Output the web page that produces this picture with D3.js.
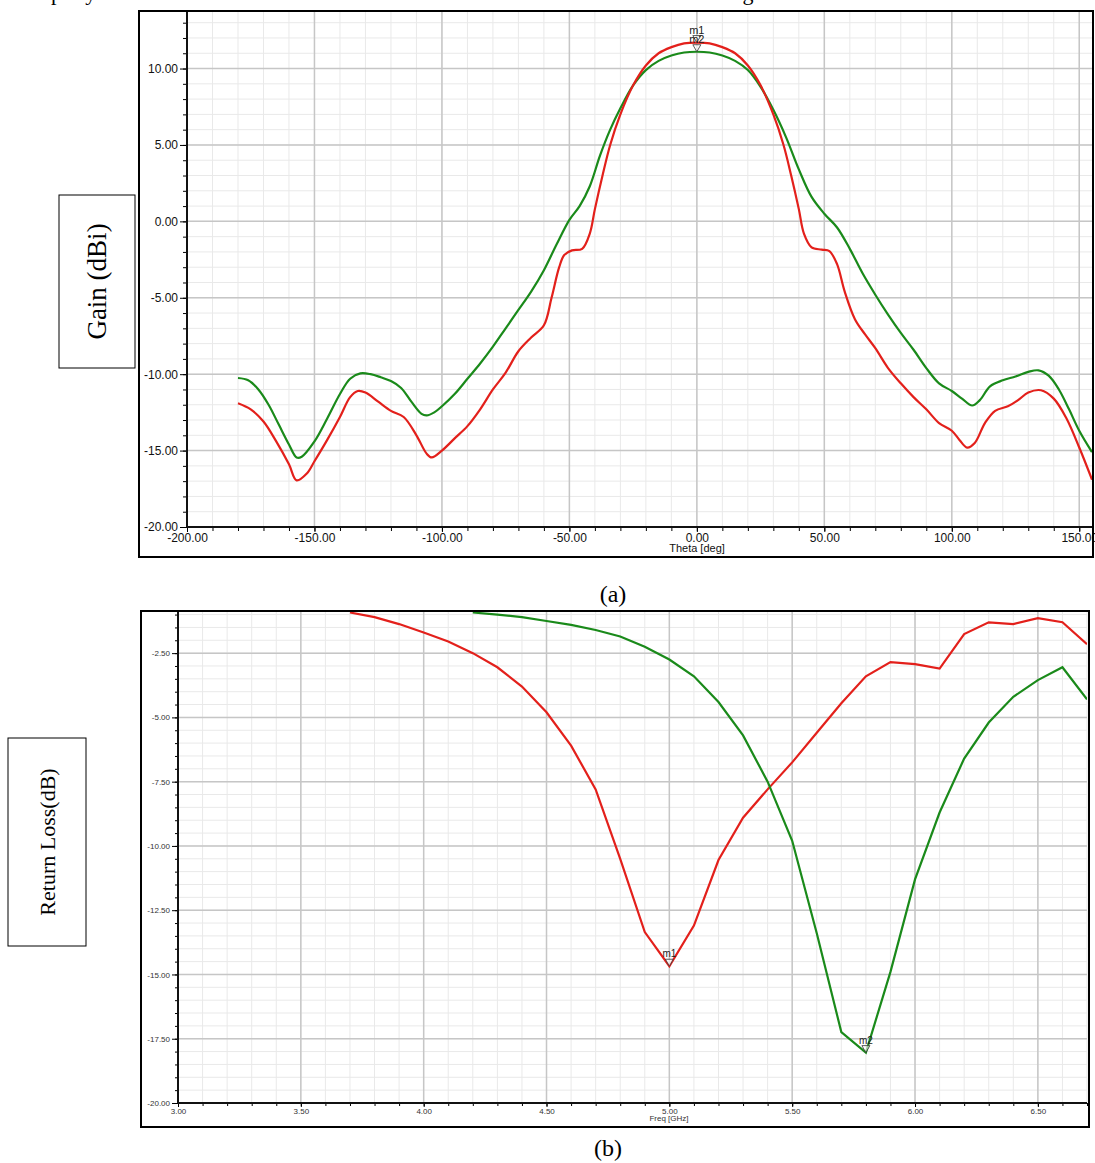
<!DOCTYPE html>
<html><head><meta charset="utf-8">
<script src="https://cdn.jsdelivr.net/npm/d3@7"></script>
<style>
html,body{margin:0;padding:0;background:#fff;}
svg{display:block;}
</style></head>
<body>
<svg id="c" width="1095" height="1163"></svg>
<script>
// ---------- DATA ----------
// (a) radiation pattern, Theta [deg] vs Gain (dBi)
const thetaRed = [-180,-175,-170,-165,-160,-157,-153,-150,-145,-140,-136,-133,-130,-125,-120,-115,-110,-106,-104,-100,-95,-90,-85,-80,-75,-70,-65,-60,-57,-54,-52,-49,-45,-42,-40,-37,-34,-30,-25,-20,-15,-10,-5,0,5,10,15,20,25,30,34,37,40,42,45,49,52,55,58,62,66,70,75,80,85,90,95,100,103,106,109,113,117,122,126,130,135,140,145,150,155];
const gainRed  = [-11.9,-12.3,-13.1,-14.4,-15.9,-16.95,-16.5,-15.7,-14.3,-12.8,-11.5,-11.1,-11.2,-11.8,-12.4,-12.8,-14.0,-15.2,-15.45,-15.0,-14.2,-13.4,-12.3,-11.0,-9.9,-8.5,-7.6,-6.8,-5.0,-3.0,-2.2,-1.9,-1.8,-0.8,0.8,3.0,5.0,7.0,8.9,10.2,11.0,11.4,11.65,11.7,11.65,11.4,11.0,10.2,8.9,7.0,5.0,3.0,0.8,-0.8,-1.7,-1.85,-1.95,-2.8,-4.6,-6.4,-7.4,-8.3,-9.6,-10.6,-11.5,-12.3,-13.2,-13.7,-14.3,-14.8,-14.5,-13.2,-12.4,-12.1,-11.7,-11.2,-11.05,-11.6,-12.9,-14.8,-16.9];
const thetaGreen = [-180,-176,-172,-168,-164,-160,-157,-155,-150,-145,-140,-136,-132,-128,-124,-120,-116,-112,-108,-106,-103,-100,-95,-90,-85,-80,-75,-70,-65,-60,-55,-50,-46,-42,-38,-34,-30,-25,-20,-15,-10,-5,0,5,10,15,20,25,30,35,40,45,50,55,60,65,70,75,80,85,90,95,100,104,108,111,115,120,125,130,134,138,142,146,150,155];
const gainGreen  = [-10.25,-10.4,-11.0,-12.0,-13.3,-14.6,-15.45,-15.4,-14.4,-12.9,-11.3,-10.3,-9.95,-10.0,-10.2,-10.45,-10.9,-11.8,-12.6,-12.7,-12.5,-12.1,-11.3,-10.3,-9.3,-8.2,-7.0,-5.8,-4.6,-3.2,-1.5,0.1,1.0,2.3,4.3,6.0,7.4,8.9,9.9,10.5,10.85,11.05,11.1,11.05,10.85,10.5,9.9,8.8,7.3,5.5,3.4,1.6,0.5,-0.4,-1.8,-3.4,-4.8,-6.1,-7.3,-8.4,-9.6,-10.6,-11.1,-11.6,-12.05,-11.7,-10.8,-10.4,-10.15,-9.85,-9.75,-10.1,-11.0,-12.3,-13.7,-15.1];
const markersA = [{name:"m1", x:0, y:11.7, series:"red"},{name:"m2", x:0, y:11.1, series:"green"}];
const xTicksA = [-200,-150,-100,-50,0,50,100,150];
const yTicksA = [-20,-15,-10,-5,0,5,10];

// (b) return loss, Freq [GHz] vs dB
const freqRed  = [3.7,3.8,3.9,4.0,4.1,4.2,4.3,4.4,4.5,4.6,4.7,4.8,4.9,5.0,5.1,5.2,5.3,5.4,5.5,5.6,5.7,5.8,5.9,6.0,6.1,6.2,6.3,6.4,6.5,6.6,6.7];
const rlRed    = [-0.92,-1.1,-1.37,-1.7,-2.05,-2.5,-3.05,-3.8,-4.8,-6.1,-7.8,-10.5,-13.35,-14.68,-13.1,-10.55,-8.9,-7.8,-6.75,-5.6,-4.45,-3.4,-2.85,-2.93,-3.1,-1.76,-1.3,-1.37,-1.14,-1.3,-2.15];
const freqGreen = [4.2,4.3,4.4,4.5,4.6,4.7,4.8,4.9,5.0,5.1,5.2,5.3,5.4,5.5,5.6,5.7,5.8,5.9,6.0,6.1,6.2,6.3,6.4,6.5,6.6,6.7];
const rlGreen   = [-0.92,-1.0,-1.1,-1.25,-1.4,-1.6,-1.85,-2.25,-2.75,-3.4,-4.4,-5.7,-7.5,-9.8,-13.4,-17.24,-18.04,-14.9,-11.3,-8.7,-6.6,-5.2,-4.2,-3.55,-3.05,-4.3];
const markersB = [{name:"m1", x:5.0, y:-14.68, series:"red"},{name:"m2", x:5.8, y:-18.04, series:"green"}];
const xTicksB = [3.0,3.5,4.0,4.5,5.0,5.5,6.0,6.5];
const yTicksB = [-20,-17.5,-15,-12.5,-10,-7.5,-5,-2.5];

const COLORS = {red:"#e3201b", green:"#1a8a1a"};

// ---------- DRAW ----------
const svg = d3.select("#c");
const sans = "'Liberation Sans', Arial, sans-serif";
const serif = "'Liberation Serif', 'Times New Roman', serif";

// cut-off caption text at top (only its lower edge is visible)
svg.append("text").attr("x",40).attr("y",0).attr("font-family",serif).attr("font-size",22)
  .attr("fill","#000").text("operly and the two antennas have almost the same radiation characteristics of log antenna.");

const fmt2 = d => d3.format(".2f")(d).replace("\u2212","-");

function panel(cfg){
  const g = svg.append("g");
  const x = d3.scaleLinear().domain(cfg.xDomain).range([cfg.left, cfg.right]);
  const y = d3.scaleLinear().domain(cfg.yDomain).range([cfg.bottom, cfg.top]);
  const id = "clip"+cfg.id;
  svg.append("clipPath").attr("id",id).append("rect")
    .attr("x",cfg.left).attr("y",cfg.top).attr("width",cfg.right-cfg.left).attr("height",cfg.bottom-cfg.top);

  // minor grid
  const xMinor = d3.range(cfg.xDomain[0], cfg.xDomain[1]+1e-9, cfg.xMinorStep);
  const yMinor = d3.range(cfg.yDomain[0], cfg.yDomain[1]+1e-9, cfg.yMinorStep);
  g.append("g").selectAll("line").data(xMinor).join("line")
    .attr("x1",d=>x(d)).attr("x2",d=>x(d)).attr("y1",cfg.top).attr("y2",cfg.bottom)
    .attr("stroke","#e9e9e9").attr("stroke-width",1);
  g.append("g").selectAll("line").data(yMinor).join("line")
    .attr("x1",cfg.left).attr("x2",cfg.right).attr("y1",d=>y(d)).attr("y2",d=>y(d))
    .attr("stroke","#e9e9e9").attr("stroke-width",1);
  // major grid
  g.append("g").selectAll("line").data(cfg.xTicks).join("line")
    .attr("x1",d=>x(d)).attr("x2",d=>x(d)).attr("y1",cfg.top).attr("y2",cfg.bottom)
    .attr("stroke","#c6c6c6").attr("stroke-width",1.5);
  g.append("g").selectAll("line").data(cfg.yTicks).join("line")
    .attr("x1",cfg.left).attr("x2",cfg.right).attr("y1",d=>y(d)).attr("y2",d=>y(d))
    .attr("stroke","#c6c6c6").attr("stroke-width",1.5);

  // axes
  const yAxis = d3.axisLeft(y).tickValues(cfg.yTicks).tickFormat(fmt2).tickSize(cfg.majTick).tickPadding(2);
  const ya = g.append("g").attr("transform",`translate(${cfg.left},0)`).call(yAxis);
  ya.select(".domain").remove();
  ya.selectAll("text").attr("font-family",sans).attr("font-size",cfg.fs).attr("fill",cfg.labelColor);
  const yMinorAxis = d3.axisLeft(y).tickValues(yMinor).tickFormat("").tickSize(cfg.minTick);
  const ym = g.append("g").attr("transform",`translate(${cfg.left},0)`).call(yMinorAxis);
  ym.select(".domain").remove();

  const xAxis = d3.axisBottom(x).tickValues(cfg.xTicks).tickFormat(fmt2).tickSize(cfg.majTick-2).tickPadding(1);
  const xa = g.append("g").attr("transform",`translate(0,${cfg.bottom})`).call(xAxis);
  xa.select(".domain").remove();
  xa.selectAll("text").attr("font-family",sans).attr("font-size",cfg.fs).attr("fill",cfg.labelColor);
  const xMinorAxis = d3.axisBottom(x).tickValues(xMinor).tickFormat("").tickSize(cfg.minTick);
  const xm = g.append("g").attr("transform",`translate(0,${cfg.bottom})`).call(xMinorAxis);
  xm.select(".domain").remove();

  // axis lines
  g.append("line").attr("x1",cfg.left).attr("x2",cfg.left).attr("y1",cfg.top).attr("y2",cfg.bottom)
    .attr("stroke","#111").attr("stroke-width",2);
  g.append("line").attr("x1",cfg.left).attr("x2",cfg.right).attr("y1",cfg.bottom).attr("y2",cfg.bottom)
    .attr("stroke","#111").attr("stroke-width",2);

  // x title
  g.append("text").attr("x",cfg.xTitleX).attr("y",cfg.xTitleY).attr("text-anchor","middle")
    .attr("font-family",sans).attr("font-size",cfg.xTitleFs).attr("fill",cfg.labelColor).text(cfg.xTitle);

  // series
  const line = d3.line().x(d=>x(d[0])).y(d=>y(d[1])).curve(cfg.curve);
  const lg = g.append("g").attr("clip-path",`url(#${id})`);
  cfg.series.forEach(s=>{
    lg.append("path").datum(d3.zip(s.x, s.y)).attr("d",line)
      .attr("fill","none").attr("stroke",COLORS[s.color]).attr("stroke-width",2.2);
  });

  // markers
  cfg.markers.forEach(m=>{
    const px = x(m.x), py = y(m.y);
    g.append("path").attr("d",`M${px-4},${py-7}L${px+4},${py-7}L${px},${py}Z`)
      .attr("fill","#fff").attr("fill-opacity",0.6).attr("stroke","#333").attr("stroke-width",0.8);
    g.append("text").attr("x",px).attr("y",py-9).attr("text-anchor","middle")
      .attr("font-family",sans).attr("font-size",cfg.mfs).attr("fill","#222").text(m.name);
  });

  // outer frame
  svg.append("rect").attr("x",cfg.frame[0]).attr("y",cfg.frame[1])
    .attr("width",cfg.frame[2]-cfg.frame[0]).attr("height",cfg.frame[3]-cfg.frame[1])
    .attr("fill","none").attr("stroke","#000").attr("stroke-width",2);
}

panel({
  id:"A", left:187, right:1092, top:12, bottom:527,
  xDomain:[-200,155], yDomain:[-20,13.7], xMinorStep:10, yMinorStep:1,
  xTicks:xTicksA, yTicks:yTicksA, majTick:7, minTick:4, fs:12, labelColor:"#111",
  xTitle:"Theta [deg]", xTitleX:697, xTitleY:552, xTitleFs:11,
  curve:d3.curveCatmullRom.alpha(0.5),
  series:[{x:thetaGreen,y:gainGreen,color:"green"},{x:thetaRed,y:gainRed,color:"red"}],
  markers:markersA, mfs:11,
  frame:[139,11,1093,557]
});

panel({
  id:"B", left:178, right:1087, top:612, bottom:1103,
  xDomain:[3,6.7], yDomain:[-20,-0.9], xMinorStep:0.1, yMinorStep:0.5,
  xTicks:xTicksB, yTicks:yTicksB, majTick:6, minTick:3, fs:8, labelColor:"#333",
  xTitle:"Freq [GHz]", xTitleX:669, xTitleY:1121, xTitleFs:8,
  curve:d3.curveLinear,
  series:[{x:freqRed,y:rlRed,color:"red"},{x:freqGreen,y:rlGreen,color:"green"}],
  markers:markersB, mfs:10,
  frame:[141,611,1089,1127]
});

// y-axis title boxes
function yTitle(box, text, fs){
  svg.append("rect").attr("x",box[0]).attr("y",box[1]).attr("width",box[2]-box[0]).attr("height",box[3]-box[1])
    .attr("fill","#fff").attr("stroke","#000").attr("stroke-width",1);
  const cx=(box[0]+box[2])/2, cy=(box[1]+box[3])/2;
  svg.append("text").attr("transform",`translate(${cx},${cy}) rotate(-90)`).attr("text-anchor","middle")
    .attr("dominant-baseline","central").attr("font-family",serif).attr("font-size",fs).attr("fill","#000").text(text);
}
yTitle([59,195,135,368],"Gain (dBi)",27);
yTitle([8,738,86,946],"Return Loss(dB)",22);

// sub captions
svg.append("text").attr("x",613).attr("y",602).attr("text-anchor","middle").attr("font-family",serif).attr("font-size",24).text("(a)");
svg.append("text").attr("x",608).attr("y",1156).attr("text-anchor","middle").attr("font-family",serif).attr("font-size",24).text("(b)");
</script>
</body></html>
